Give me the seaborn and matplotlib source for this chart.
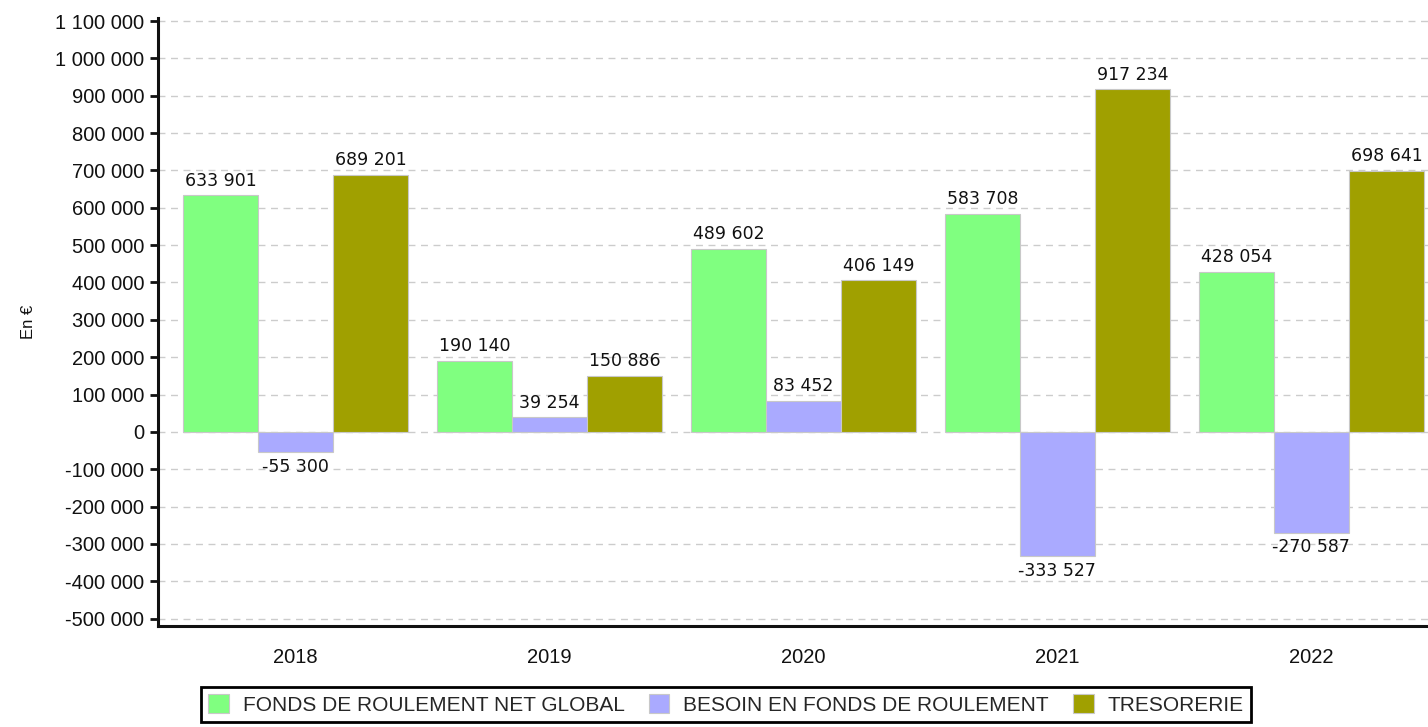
import pandas as pd
import matplotlib
matplotlib.use("Agg")
import matplotlib.pyplot as plt
from matplotlib.ticker import FuncFormatter, MultipleLocator
import seaborn as sns

years = ["2018", "2019", "2020", "2021", "2022"]
series = ["FONDS DE ROULEMENT NET GLOBAL", "BESOIN EN FONDS DE ROULEMENT", "TRESORERIE"]
frng = [633901, 190140, 489602, 583708, 428054]
bfr = [-55300, 39254, 83452, -333527, -270587]
tresorerie = [689201, 150886, 406149, 917234, 698641]
colors = ["#80ff80", "#aaaaff", "#a0a000"]


def fmt_fr(v, pos=None):
    return f"{int(round(v)):,}".replace(",", " ")


df = pd.DataFrame({
    "annee": years * 3,
    "serie": [series[0]] * 5 + [series[1]] * 5 + [series[2]] * 5,
    "valeur": frng + bfr + tresorerie,
})

sns.set_theme(style="white")
plt.rcParams["font.family"] = ["Liberation Sans", "DejaVu Sans"]

fig = plt.figure(figsize=(14.28, 7.27), dpi=100)
ax = fig.add_axes([158 / 1428, 1 - 626 / 727, 1270 / 1428, 607.5 / 727])

sns.barplot(data=df, x="annee", y="valeur", hue="serie", hue_order=series,
            palette=colors, width=0.886, gap=0, saturation=1,
            edgecolor="#c8c8c8", linewidth=0.8, legend=False, ax=ax, zorder=3)

# value labels above / below each bar
for cont in ax.containers:
    vals = cont.datavalues
    ax.bar_label(cont, labels=[fmt_fr(v) for v in vals], padding=4,
                 fontsize=12.5, family="DejaVu Sans", color="#111111")

ax.set_ylim(-520000, 1107000)
ax.set_xlim(-0.541, 4.459)
ax.yaxis.set_major_locator(MultipleLocator(100000))
ax.yaxis.set_major_formatter(FuncFormatter(fmt_fr))
ax.grid(axis="y", color="#cccccc", linestyle=(0, (5, 4)), linewidth=1, zorder=0)
ax.grid(axis="x", visible=False)

for side in ["top", "right"]:
    ax.spines[side].set_visible(False)
for side in ["left", "bottom"]:
    ax.spines[side].set_color("#111111")
    ax.spines[side].set_linewidth(2.2)

ax.tick_params(axis="y", left=True, length=6, width=2, color="#111111",
               labelsize=14.5, labelcolor="#111111", pad=4)
ax.tick_params(axis="x", bottom=False, labelsize=14.5, labelcolor="#111111", pad=10)
ax.set_xlabel("")
ax.set_ylabel("En €", fontsize=12, color="#111111")
ax.yaxis.set_label_coords(-122 / 1270, 0.5)

handles = [plt.Rectangle((0, 0), 1, 1, facecolor=c, edgecolor="#c8c8c8", linewidth=0.8)
           for c in colors]
leg = fig.legend(handles, series, loc="center", bbox_to_anchor=(726 / 1428, 1 - 704.5 / 727),
                 ncol=3, fontsize=15, frameon=True, fancybox=False, framealpha=1,
                 handlelength=1.0, handleheight=1.0, handletextpad=0.67,
                 columnspacing=1.15, borderpad=0.35)
leg.get_frame().set_edgecolor("#000000")
leg.get_frame().set_linewidth(2)

fig.savefig("out.png", dpi=100)
